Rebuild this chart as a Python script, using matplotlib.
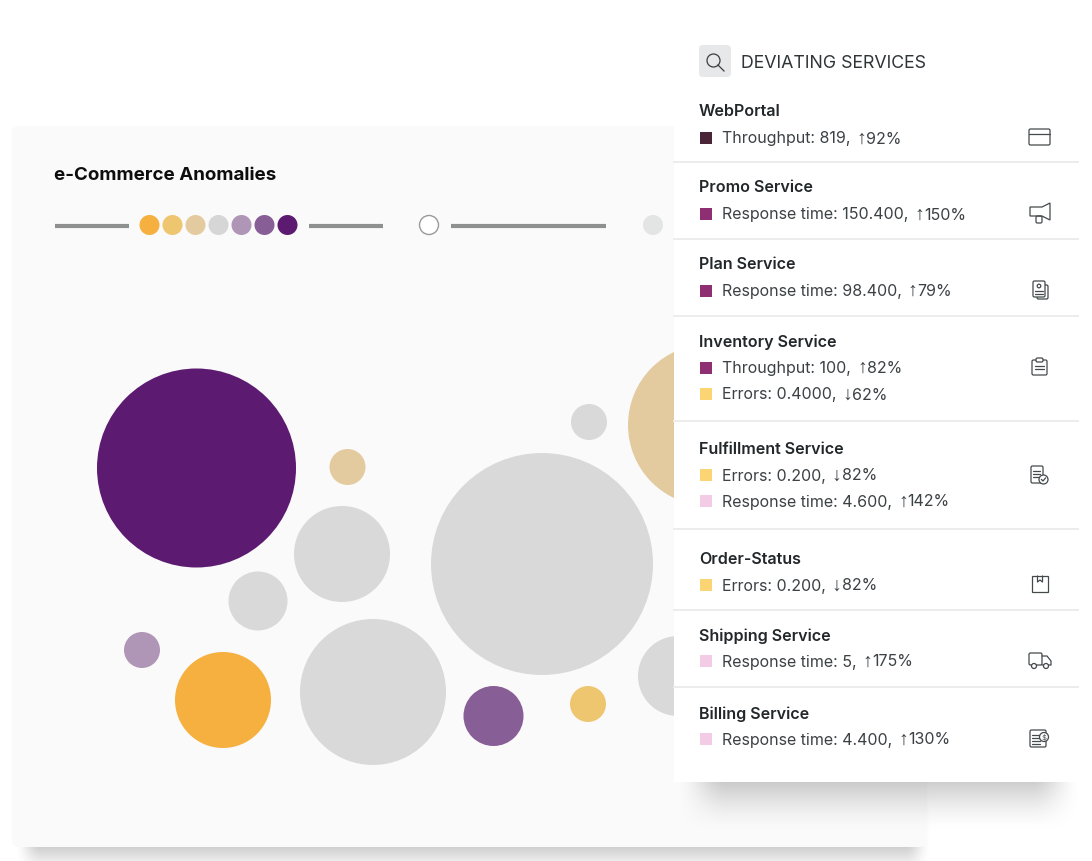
import numpy as np
import matplotlib
matplotlib.use("Agg")
import matplotlib.pyplot as plt
from matplotlib.patches import Circle, Rectangle, FancyBboxPatch, Polygon

plt.rcParams['font.family'] = ['Inter', 'DejaVu Sans']

# bubbles
bubble_x = [196.5, 347.5, 342, 258, 589, 542, 142, 223, 373, 493.5, 588, 709, 678]
bubble_y = [468, 467, 554, 601, 422, 564, 650, 700, 692, 716, 704, 425, 676]
bubble_r = [99.5, 18, 48, 29.5, 18, 111, 18, 48, 73, 30, 18, 81, 40]
bubble_c = ["#5c1a70", "#e3cb9f", "#d9d9d9", "#d9d9d9", "#d9d9d9", "#d9d9d9", "#b096b6",
            "#f5b040", "#d9d9d9", "#875e95", "#efc670", "#e3cb9f", "#d9d9d9"]

# legend dots
legend_colors = ["#f5b040", "#efc670", "#e3cb9f", "#d6d6d6", "#b096b6", "#875e95", "#5c1a70"]

# services
service_names = ["WebPortal", "Promo Service", "Plan Service", "Inventory Service",
                 "Fulfillment Service", "Order-Status", "Shipping Service", "Billing Service"]
service_rows = [
    [("Throughput: 819,", "\u2191", "92%", "#4a2538")],
    [("Response time: 150.400,", "\u2191", "150%", "#8e2f74")],
    [("Response time: 98.400,", "\u2191", "79%", "#8e2f74")],
    [("Throughput: 100,", "\u2191", "82%", "#8e2f74"), ("Errors: 0.4000,", "\u2193", "62%", "#fbd474")],
    [("Errors: 0.200,", "\u2193", "82%", "#fbd474"), ("Response time: 4.600,", "\u2191", "142%", "#f3cbe4")],
    [("Errors: 0.200,", "\u2193", "82%", "#fbd474")],
    [("Response time: 5,", "\u2191", "175%", "#f3cbe4")],
    [("Response time: 4.400,", "\u2191", "130%", "#f3cbe4")],
]
name_y = [116, 192, 269, 347, 454.5, 564.5, 641, 718.5]
row_y = [[138], [214], [290.5], [367.5, 394], [475, 501], [585], [661], [739]]
sep_y = [162, 239, 316, 421, 529, 610, 687]

fig = plt.figure(figsize=(10.92, 8.61), dpi=100, facecolor="white")
ax = fig.add_axes([0, 0, 1, 1])
ax.set_xlim(0, 1092)
ax.set_ylim(861, 0)
ax.axis("off")


def soft_shadow(x0, y0, x1, y1, blur_x, blur_y, alpha, zorder):
    # blurred grey rectangle as an rgba image
    xs = np.arange(0, 1092) + 0.5
    ys = np.arange(0, 861) + 0.5

    def ramp(v, blur):
        t = np.clip(v / blur + 0.5, 0, 1)
        return t * t * (3 - 2 * t)

    mask = np.outer(ramp(ys - y0, blur_y) * ramp(y1 - ys, blur_y), ramp(xs - x0, blur_x) * ramp(x1 - xs, blur_x))
    img = np.zeros((861, 1092, 4))
    img[..., :3] = 0.55
    img[..., 3] = mask * alpha
    ax.imshow(img, extent=(0, 1092, 861, 0), zorder=zorder, aspect="auto", interpolation="bilinear")


def row_text(x, y, label, arrow, pct):
    # label, narrow arrow and percentage share one baseline
    rend = fig.canvas.get_renderer()
    base = y + 5.5
    t = ax.text(x, base, label, fontsize=11.5, color="#3c4144", va="baseline", zorder=6)
    x2 = t.get_window_extent(rend).x1 + 6
    a = ax.text(x2, base, arrow, fontsize=14, color="#3c4144", va="baseline", family="Liberation Sans", zorder=6)
    x3 = a.get_window_extent(rend).x1
    ax.text(x3, base, pct, fontsize=11.5, color="#3c4144", va="baseline", zorder=6)


# main card
soft_shadow(28, 800, 918, 855, 26, 44, 0.55, 1)
ax.add_patch(FancyBboxPatch((12, 126), 915, 721, boxstyle="round,pad=0,rounding_size=7",
                            fc="#fafafa", ec="none", zorder=2))
ax.text(54, 180, "e-Commerce Anomalies", fontsize=13.5, fontweight="bold", color="#0d0d0d",
        va="baseline", ha="left", zorder=3)

# legend strip
for x0, x1 in [(55, 129), (309, 383), (451, 606)]:
    ax.plot([x0, x1], [225.5, 225.5], color="#8e9090", lw=3, solid_capstyle="butt", zorder=3)
for i, c in enumerate(legend_colors):
    ax.add_patch(Circle((149.5 + i * 23, 225), 10, fc=c, ec="none", zorder=3))
ax.add_patch(Circle((429, 225), 9.5, fc="white", ec="#9a9a9a", lw=1, zorder=3))
ax.add_patch(Circle((653, 225), 10, fc="#e3e5e5", ec="none", zorder=3))

# bubbles
for x, y, r, c in zip(bubble_x, bubble_y, bubble_r, bubble_c):
    ax.add_patch(Circle((x, y), r, fc=c, ec="none", zorder=3))

# side panel
soft_shadow(702, 700, 1056, 788, 50, 90, 0.72, 4)
ax.add_patch(Rectangle((674, 30), 404, 752, fc="white", ec="none", zorder=5))
ax.add_patch(Rectangle((630, 0), 462, 120, fc="white", ec="none", zorder=2.5))

# header
ax.add_patch(FancyBboxPatch((699, 45), 32, 32, boxstyle="round,pad=0,rounding_size=4",
                            fc="#e6e8e9", ec="none", zorder=6))
ax.add_patch(Circle((713.5, 60.5), 6.5, fc="none", ec="#3a3f42", lw=0.9, zorder=7))
ax.plot([718, 724], [65, 71], color="#3a3f42", lw=0.9, zorder=7)
ax.text(741, 68, "DEVIATING SERVICES", fontsize=12.8, color="#2f3437", va="baseline", zorder=6)

# rows
for name, ny, rows, ys in zip(service_names, name_y, service_rows, row_y):
    ax.text(699, ny, name, fontsize=11.6, fontweight="semibold", color="#22272a", va="baseline", zorder=6)
    for (label, arrow, pct, c), y in zip(rows, ys):
        ax.add_patch(Rectangle((699.5, y - 6), 12, 12, fc=c, ec="none", zorder=6))
        row_text(722, y, label, arrow, pct)
for y in sep_y:
    ax.plot([674, 1078], [y, y], color="#ececec", lw=1.4, zorder=6)

# icons, drawn around their centre
ic = dict(color="#44494c", lw=0.9, zorder=7, solid_capstyle="round")


def box(x, y, w, h, fc="none"):
    ax.add_patch(FancyBboxPatch((x, y), w, h, boxstyle="round,pad=0,rounding_size=1.5",
                                fc=fc, ec="#44494c", lw=0.9, zorder=7))


# browser
box(1029, 129, 21, 16)
ax.plot([1029, 1050], [133.5, 133.5], **ic)
# megaphone
ax.add_patch(Polygon([(1030, 207), (1042, 207), (1050, 203), (1050, 220), (1042, 216), (1030, 216)],
                     closed=True, fc="none", ec="#44494c", lw=0.9, zorder=7))
box(1036, 216, 6, 7)
# documents
box(1037, 285, 11, 14, fc="white")
box(1033, 281, 12, 16, fc="white")
for yy in [291, 294]:
    ax.plot([1035, 1043], [yy, yy], **ic)
ax.add_patch(Circle((1039, 286), 1.8, fc="none", ec="#44494c", lw=0.9, zorder=7))
# clipboard
box(1032, 360, 15, 15)
box(1036, 358, 7, 4, fc="white")
for yy in [366, 369]:
    ax.plot([1035, 1044], [yy, yy], **ic)
# checked document
box(1031, 466, 12, 17)
for yy in [471, 474, 477]:
    ax.plot([1033, 1040], [yy, yy], **ic)
ax.add_patch(Circle((1043.5, 479.5), 4.5, fc="white", ec="#44494c", lw=0.9, zorder=8))
ax.plot([1041.5, 1043, 1045.5], [479.5, 481, 478], color="#44494c", lw=0.9, zorder=9)
# parcel
ax.add_patch(Rectangle((1032, 576), 15.5, 15.5, fc="none", ec="#44494c", lw=0.9, zorder=7))
ax.plot([1037.5, 1037.5, 1040, 1042.5, 1042.5], [576, 582, 580, 582, 576], **ic)
# truck
box(1029, 653, 13, 12)
ax.plot([1042, 1047, 1051, 1051, 1042], [656, 656, 661, 665, 665], **ic)
for cx in [1034, 1046]:
    ax.add_patch(Circle((cx, 666), 2.5, fc="white", ec="#44494c", lw=0.9, zorder=8))
# invoice
box(1030, 730, 16, 17)
for yy in [735, 738, 741, 744]:
    ax.plot([1032, 1040], [yy, yy], **ic)
ax.add_patch(Circle((1044, 737), 4.5, fc="white", ec="#44494c", lw=0.9, zorder=8))
ax.text(1044, 737, "$", fontsize=5.5, color="#44494c", ha="center", va="center", zorder=9)

ax.set_xlim(0, 1092)
ax.set_ylim(861, 0)
fig.savefig("out.png", dpi=100, facecolor="white")
